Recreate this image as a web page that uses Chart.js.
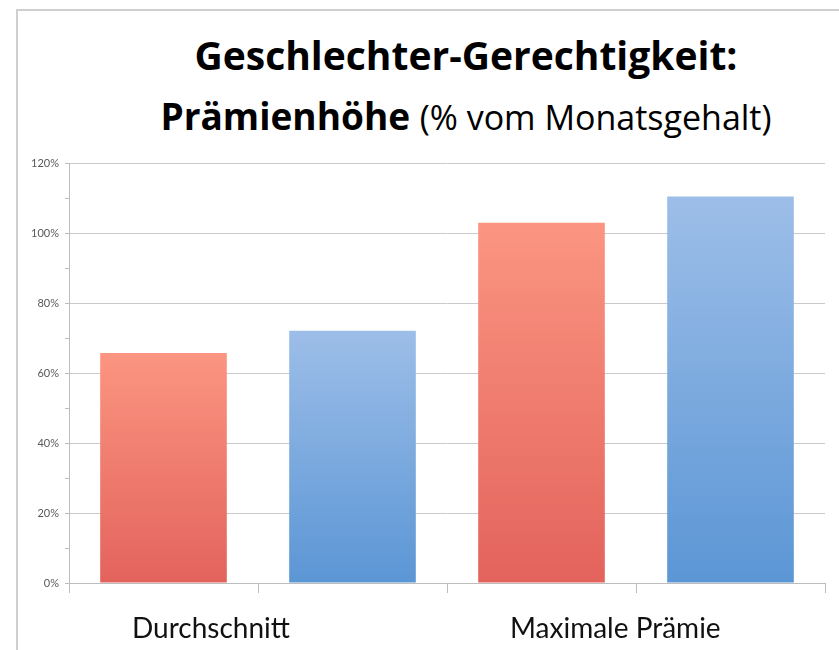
<!DOCTYPE html>
<html>
<head>
<meta charset="utf-8">
<script src="https://cdn.jsdelivr.net/npm/chart.js@4/dist/chart.umd.min.js"></script>
<style>
    html, body { margin: 0; padding: 0; background: #fff; overflow: hidden; }
    #wrap { position: relative; width: 839px; height: 650px; overflow: hidden; }
    #frame { position: absolute; left: 16px; top: 9px; width: 840px; height: 660px;
             border-left: 2px solid #cfcfcf; border-top: 2px solid #cfcfcf; }
    .title { position: absolute; left: 466px; transform: translateX(-50%); white-space: nowrap;
             font-family: "Open Sans", sans-serif; color: #000; line-height: 1; }
    #t1 { top: 35px; font-size: 39px; font-weight: bold; }
    #t2 { top: 97px; font-size: 37px; font-weight: bold; }
    #t2 span { font-weight: normal; font-size: 34px; }
    canvas { position: absolute; left: 0; top: 0; }
</style>
</head>
<body>
<div id="wrap">
    <div id="frame"></div>
    <div class="title" id="t1">Geschlechter-Gerechtigkeit:</div>
    <div class="title" id="t2">Prämienhöhe <span>(% vom Monatsgehalt)</span></div>
    <canvas id="praemie" width="839" height="650"></canvas>
</div>
<script>
// Werte in % vom Monatsgehalt
const categories = ['Durchschnitt', 'Maximale Prämie'];
const frauen = [65.7, 102.9];
const maenner = [72.1, 110.4];
const yTicks = [0, 20, 40, 60, 80, 100, 120];

// Verlauf von oben (hell) nach unten (dunkel), je Balken
function barFill(topColor, bottomColor) {
    return function (c) {
        const chart = c.chart;
        const y = chart.scales && chart.scales.y;
        if (!chart.chartArea || !y || c.raw === undefined) return bottomColor;
        const yTop = y.getPixelForValue(c.raw);
        const yBottom = y.getPixelForValue(0);
        const g = chart.ctx.createLinearGradient(0, yTop, 0, yBottom);
        g.addColorStop(0, topColor);
        g.addColorStop(1, bottomColor);
        return g;
    };
}

// kleine Striche unter der Achse in der Mitte jeder Kategorie
const midTicks = {
    id: 'midTicks',
    afterDraw(chart) {
        const x = chart.scales.x;
        const ctx = chart.ctx;
        ctx.save();
        ctx.strokeStyle = '#bdbdbd';
        ctx.lineWidth = 1;
        categories.forEach((c, i) => {
            const px = Math.round(x.getPixelForValue(i)) + 0.5;
            ctx.beginPath();
            ctx.moveTo(px, x.top);
            ctx.lineTo(px, x.top + 10);
            ctx.stroke();
        });
        ctx.restore();
    }
};

const ctx = document.getElementById('praemie');
const praemieChart = new Chart(ctx, {
    type: 'bar',
    data: {
        labels: categories,
        datasets: [{
            label: 'Frauen',
            data: frauen,
            backgroundColor: barFill('#fb9581', '#e3635c'),
        }, {
            label: 'Männer',
            data: maenner,
            backgroundColor: barFill('#9dbee8', '#5b96d5'),
        }]
    },
    plugins: [midTicks],
    options: {
        responsive: false,
        animation: false,
        categoryPercentage: 1.0,
        barPercentage: 0.67,
        layout: {
            padding: { top: 163, right: 14, left: 0, bottom: 0 }
        },
        plugins: {
            legend: { display: false },
            tooltip: { enabled: false },
            title: { display: false }
        },
        scales: {
            x: {
                grid: {
                    offset: true,
                    drawOnChartArea: false,
                    color: '#bdbdbd',
                    tickLength: 10
                },
                border: { color: '#bdbdbd' },
                ticks: {
                    align: 'start',
                    labelOffset: -126,
                    padding: 19,
                    color: '#111',
                    font: { family: 'Lato', size: 28 }
                },
                afterFit(scale) {
                    scale.height = 67;
                    // links ausgerichtete Beschriftung soll keinen Rand rechts erzwingen
                    scale.paddingLeft = 0;
                    scale.paddingRight = 0;
                }
            },
            y: {
                min: 0,
                max: 120,
                afterBuildTicks(scale) {
                    // Haupt- und Zwischenstriche alle 10 %
                    const t = [];
                    for (let i = 0; i < yTicks.length; i++) {
                        t.push({ value: yTicks[i] });
                        if (i < yTicks.length - 1) t.push({ value: (yTicks[i] + yTicks[i + 1]) / 2 });
                    }
                    scale.ticks = t.sort((a, b) => a.value - b.value);
                },
                grid: {
                    color: (c) => yTicks.includes(c.tick.value) ? '#cacaca' : 'rgba(0,0,0,0)',
                    tickColor: '#bdbdbd',
                    tickLength: 4
                },
                border: { color: '#bdbdbd' },
                ticks: {
                    padding: 6,
                    color: '#595959',
                    font: { family: 'Lato', size: 11 },
                    callback: (v) => yTicks.includes(v) ? v + '%' : ''
                },
                afterFit(scale) { scale.width = 69; }
            }
        }
    }
});
</script>
</body>
</html>
